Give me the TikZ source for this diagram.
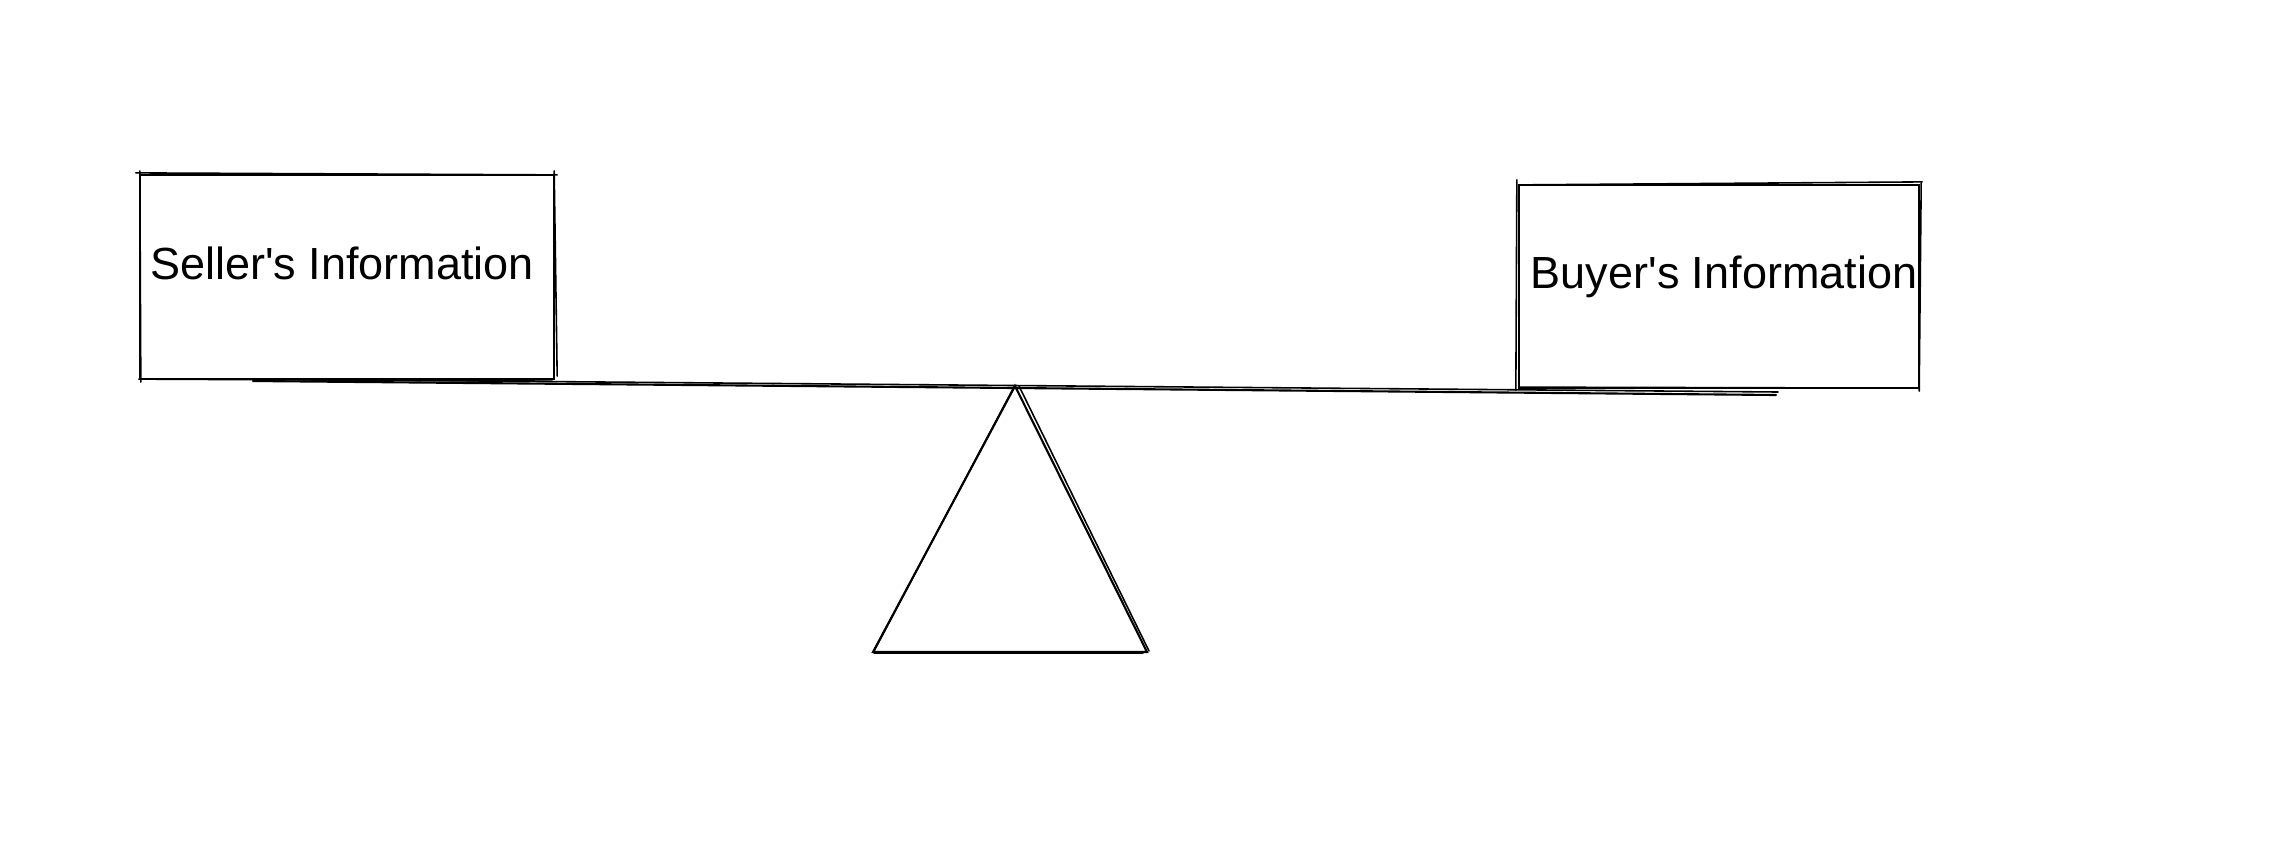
\documentclass[tikz,border=0pt]{standalone}
\usepackage{fontspec}
\setmainfont{Liberation Sans}
\usetikzlibrary{calc}
\tikzset{
  box/.style={draw=black, line width=0.6pt, rectangle, inner sep=0pt},
  sk/.style={draw=black, line width=0.45pt, line cap=round},
  beam/.style={draw=black, line width=0.6pt, line cap=round},
  lbl/.style={font=\fontsize{12.8}{14}\selectfont, inner sep=0pt, anchor=base}
}
\begin{document}
\begin{tikzpicture}[x=0.01cm,y=-0.01cm]
\useasboundingbox[fill=white] (0,0) rectangle (2280,848);
% boxes
\node[box, minimum width=4.14cm, minimum height=2.04cm] (seller) at (347,277) {};
\node[box, minimum width=4.00cm, minimum height=2.03cm] (buyer) at (1719,286.5) {};
% sketchy second strokes
\draw[sk] ($(seller.north west)+(-3,-1)$) -- ($(seller.north east)+(2,1)$);
\draw[sk] ($(seller.north east)+(-1,-3)$) -- ($(seller.south east)+(2,-4)$);
\draw[sk] ($(seller.south west)+(2,2)$) -- ($(seller.north west)+(1,-3)$);
\draw[sk] ($(seller.south west)+(0,-1)$) -- ($(seller.south east)+(-3,1)$);
\draw[sk] ($(buyer.north west)+(1,1)$) -- ($(buyer.north east)+(2,-2)$);
\draw[sk] ($(buyer.north east)+(1,-1)$) -- ($(buyer.south east)+(-1,2)$);
\draw[sk] ($(buyer.south west)+(-2,1)$) -- ($(buyer.north west)+(-1,-4)$);
\draw[sk] ($(buyer.south west)+(2,-2)$) -- ($(buyer.south east)+(-2,-1)$);
% labels
\node[lbl] (sellert) at (342,279) {Seller\textquotesingle s Information};
\node[lbl] (buyert) at (1724,288) {Buyer\textquotesingle s Information};
% beam
\coordinate (bl) at (253,381);
\coordinate (br) at (1776,395);
\draw[beam] (bl) -- (br);
\draw[sk] ($(bl)+(-4,-2)$) -- ($(br)+(2,-3)$);
% fulcrum
\coordinate (apex) at (1015,386);
\coordinate (basel) at (873,652);
\coordinate (baser) at (1147,652);
\draw[beam] (apex) -- (basel) -- (baser) -- cycle;
\draw[sk] ($(apex)+(4,0)$) -- ($(baser)+(2,-1)$);
\draw[sk] ($(basel)+(1,1)$) -- ($(baser)+(-4,1)$);
\draw[sk] ($(apex)+(-1,1)$) -- ($(basel)+(1,-1)$);
\end{tikzpicture}
\end{document}
